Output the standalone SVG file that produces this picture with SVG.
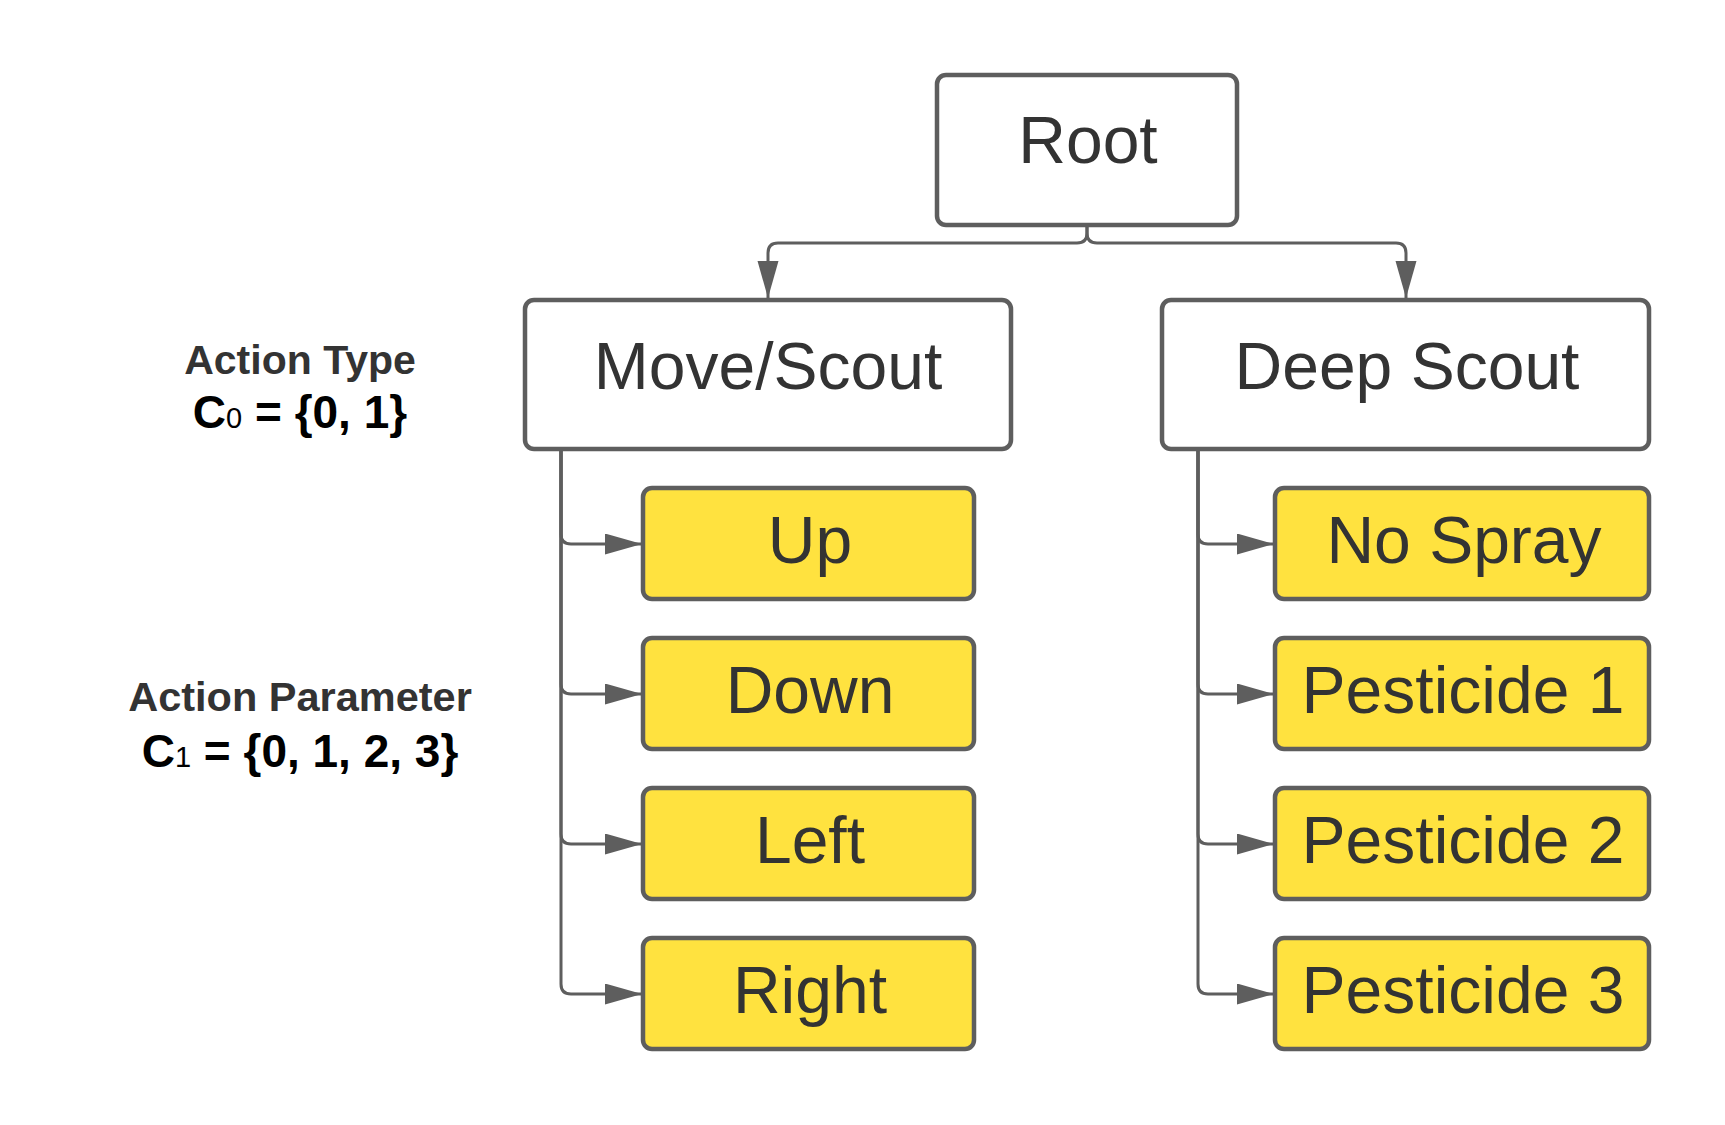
<svg xmlns="http://www.w3.org/2000/svg" width="1725" height="1125" viewBox="0 0 1725 1125">
<style>
  .box { fill: #ffffff; stroke: #5e5e5e; stroke-width: 4.5; }
  .leaf { fill: #ffe23f; stroke: #5e5e5e; stroke-width: 4.5; }
  .lbl { font-family: "Liberation Sans", Arial, sans-serif; font-size: 66px; fill: #333333; text-anchor: middle; }
  .conn { fill: none; stroke: #5e5e5e; stroke-width: 3; }
  .side { font-family: "Liberation Sans", Arial, sans-serif; font-weight: bold; text-anchor: middle; }
</style>
<defs>
  <marker id="arr" markerUnits="userSpaceOnUse" markerWidth="38" markerHeight="22" refX="37" refY="10.5" orient="auto">
    <path d="M0,0 L37,10.5 L0,21 z" fill="#5e5e5e"/>
  </marker>
</defs>
<rect width="1725" height="1125" fill="#ffffff"/>

<g id="connectors">
  <path class="conn" marker-end="url(#arr)" d="M1087,225 L1087,233 Q1087,243 1077,243 L778,243 Q768,243 768,253 L768,298"/>
  <path class="conn" marker-end="url(#arr)" d="M1087,225 L1087,233 Q1087,243 1097,243 L1396,243 Q1406,243 1406,253 L1406,298"/>
  <path class="conn" marker-end="url(#arr)" d="M561,449 L561,534 Q561,544 571,544 L642,544"/>
  <path class="conn" marker-end="url(#arr)" d="M561,449 L561,684 Q561,694 571,694 L642,694"/>
  <path class="conn" marker-end="url(#arr)" d="M561,449 L561,834 Q561,844 571,844 L642,844"/>
  <path class="conn" marker-end="url(#arr)" d="M561,449 L561,984 Q561,994 571,994 L642,994"/>
  <path class="conn" marker-end="url(#arr)" d="M1198,449 L1198,534 Q1198,544 1208,544 L1274,544"/>
  <path class="conn" marker-end="url(#arr)" d="M1198,449 L1198,684 Q1198,694 1208,694 L1274,694"/>
  <path class="conn" marker-end="url(#arr)" d="M1198,449 L1198,834 Q1198,844 1208,844 L1274,844"/>
  <path class="conn" marker-end="url(#arr)" d="M1198,449 L1198,984 Q1198,994 1208,994 L1274,994"/>
</g>

<g id="root">
  <rect class="box" x="937" y="75" width="300" height="150" rx="9"/>
  <text class="lbl" x="1088" y="163">Root</text>
</g>
<g id="move-scout">
  <rect class="box" x="525" y="300" width="486" height="149" rx="9"/>
  <text class="lbl" x="768" y="389">Move/Scout</text>
</g>
<g id="deep-scout">
  <rect class="box" x="1162" y="300" width="487" height="149" rx="9"/>
  <text class="lbl" x="1407" y="389">Deep Scout</text>
</g>

<g id="up">
  <rect class="leaf" x="643" y="488" width="331" height="111" rx="9"/>
  <text class="lbl" x="810" y="563">Up</text>
</g>
<g id="down">
  <rect class="leaf" x="643" y="638" width="331" height="111" rx="9"/>
  <text class="lbl" x="810" y="713">Down</text>
</g>
<g id="left">
  <rect class="leaf" x="643" y="788" width="331" height="111" rx="9"/>
  <text class="lbl" x="810" y="863">Left</text>
</g>
<g id="right">
  <rect class="leaf" x="643" y="938" width="331" height="111" rx="9"/>
  <text class="lbl" x="810" y="1013">Right</text>
</g>

<g id="no-spray">
  <rect class="leaf" x="1275" y="488" width="374" height="111" rx="9"/>
  <text class="lbl" x="1464" y="563">No Spray</text>
</g>
<g id="pesticide-1">
  <rect class="leaf" x="1275" y="638" width="374" height="111" rx="9"/>
  <text class="lbl" x="1463" y="713">Pesticide 1</text>
</g>
<g id="pesticide-2">
  <rect class="leaf" x="1275" y="788" width="374" height="111" rx="9"/>
  <text class="lbl" x="1463" y="863">Pesticide 2</text>
</g>
<g id="pesticide-3">
  <rect class="leaf" x="1275" y="938" width="374" height="111" rx="9"/>
  <text class="lbl" x="1463" y="1013">Pesticide 3</text>
</g>

<g id="labels">
  <text class="side" x="300" y="374" font-size="41" fill="#333333">Action Type</text>
  <text class="side" x="300" y="428" font-size="46" fill="#000000">C<tspan font-size="29" font-weight="normal">0</tspan> = {0, 1}</text>
  <text class="side" x="300" y="711" font-size="41.5" fill="#333333">Action Parameter</text>
  <text class="side" x="300" y="767" font-size="46" fill="#000000">C<tspan font-size="29" font-weight="normal">1</tspan> = {0, 1, 2, 3}</text>
</g>
</svg>
